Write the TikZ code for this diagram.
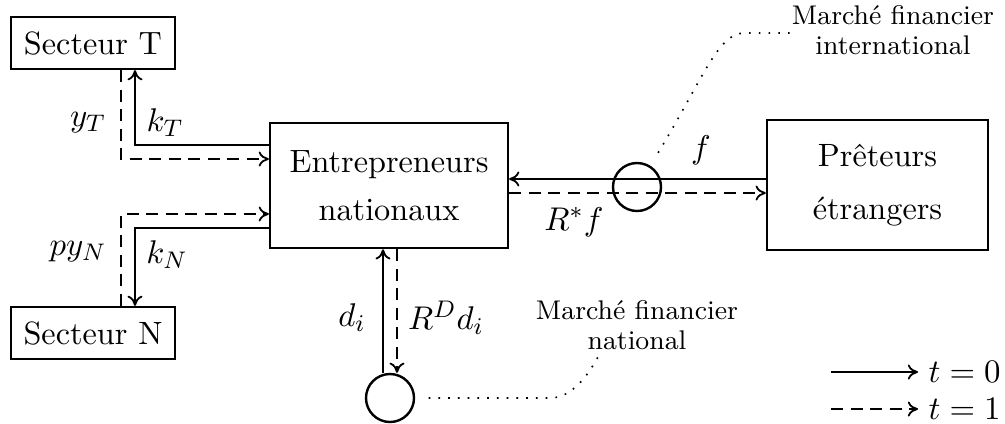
\documentclass[tikz,border=0pt]{standalone}
\usepackage{xcolor}
\usepackage{tikz}
\usetikzlibrary{positioning,arrows.meta}
\usepackage{amsmath}

\begin{document}
\begin{tikzpicture}[x=0.3333pt, y=-0.3333pt, >={To[length=3.4pt, width=5pt]},
  font=\fontsize{10.75}{13}\selectfont,
  box/.style={draw, thick, align=center, inner sep=0pt},
  ring/.style={draw, thick, circle, minimum size=16pt, inner sep=0pt},
  per0/.style={semithick, ->},
  per1/.style={semithick, ->, dash pattern=on 4pt off 2.5pt},
  dotline/.style={line width=0.55pt, dash pattern=on 0.55pt off 2.7pt},
  note/.style={align=center, font=\fontsize{9}{10}\selectfont}]
\useasboundingbox (0,0) rectangle (1005,423);

% boxes
\node[box, minimum width=54.7pt, minimum height=17.3pt] (secT) at (93,43) {Secteur T};
\node[box, minimum width=54.7pt, minimum height=17.3pt] (secN) at (93,333) {Secteur N};
\node[box, minimum width=79.3pt, minimum height=41.7pt] (ent) at (389,185.5) {Entrepreneurs\\[3pt]nationaux};
\node[box, minimum width=73.7pt, minimum height=43.3pt] (pret) at (877.5,185) {Pr\^eteurs\\[4.7pt]\'etrangers};

% marchés
\node[ring] (fc) at (637,187) {};
\node[ring] (fn) at (390,398) {};
\node[note] (intl) at (893,30) {March\'e financier\\international};
\node[note] (natl) at (637,325) {March\'e financier\\national};

% secteur T
\draw[per1] (secT.south -| 121,0) |- (ent.west |- 0,159);
\draw[per0] (ent.west |- 0,145) -| (secT.south -| 135,0);
\node at (88,123) {$y_T$};
\node at (165,123) {$k_T$};

% secteur N
\draw[per1] (secN.north -| 121,0) |- (ent.west |- 0,214);
\draw[per0] (ent.west |- 0,228) -| (secN.north -| 135,0);
\node at (78,252) {$py_N$};
\node at (167,255) {$k_N$};

% prêteurs
\draw[per0] (pret.west |- 0,179) -- (ent.east |- 0,179);
\draw[per1] (ent.east |- 0,193) -- (pret.west |- 0,193);
\node at (701,150) {$f$};
\node at (574,222) {$R^{*}f$};

% dépôts
\draw[per0] (fn.north -| 383,0) -- (ent.south -| 383,0);
\draw[per1] (ent.south -| 397,0) -- (fn.north -| 397,0);
\node at (352,318) {$d_i$};
\node at (446,318) {$R^{D}d_i$};

% renvois
\coordinate (intend) at (797,33);
\coordinate (natend) at (598,357);
\draw[dotline, shorten <=5pt] (fc.58) .. controls (705,75) and (718,33) .. (745,33) -- (intend);
\draw[dotline, shorten <=4.5pt] (fn.east) -- (550,398) .. controls (572,398) and (588,375) .. (natend);

% légende
\node[anchor=west] (leg0) at (918,372) {$t=0$};
\node[anchor=west] (leg1) at (918,409) {$t=1$};
\draw[per0] (leg0.west -| 831,0) -- (leg0.west);
\draw[per1] (leg1.west -| 831,0) -- (leg1.west);
\end{tikzpicture}
\end{document}
